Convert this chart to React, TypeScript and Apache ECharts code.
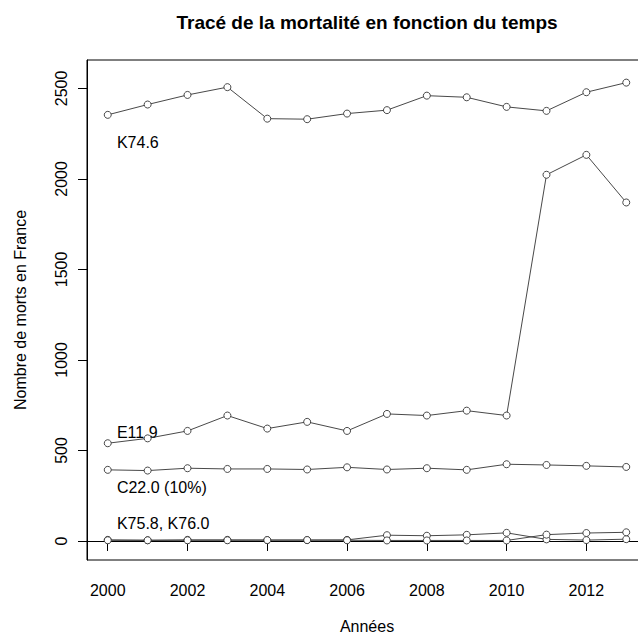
import React, { useEffect, useRef } from "react";
import * as echarts from "echarts";

const years = [2000, 2001, 2002, 2003, 2004, 2005, 2006, 2007, 2008, 2009, 2010, 2011, 2012, 2013];
const k746 = [2354, 2411, 2464, 2507, 2333, 2330, 2361, 2380, 2460, 2451, 2398, 2376, 2479, 2532];
const e119 = [540, 567, 608, 693, 621, 658, 608, 702, 693, 720, 693, 2023, 2133, 1870];
const c220 = [393, 389, 402, 398, 398, 395, 407, 395, 402, 393, 424, 420, 415, 409];
const k758 = [6, 4, 6, 6, 5, 5, 6, 32, 29, 34, 45, 9, 5, 10];
const k760 = [4, 4, 4, 4, 5, 5, 4, 3, 3, 3, 3, 35, 44, 48];

const xTicks = [2000, 2002, 2004, 2006, 2008, 2010, 2012];
const yTicks = [0, 500, 1000, 1500, 2000, 2500];

const annotLabels = ["K74.6", "E11.9", "C22.0 (10%)", "K75.8, K76.0"];
const annotX = [2000.23, 2000.23, 2000.23, 2000.23];
const annotY = [2201, 600, 297, 97];

const titleText = "Tracé de la mortalité en fonction du temps";
const FONT = '"Liberation Sans", Arial, sans-serif';

export default function App() {
  const ref = useRef<HTMLDivElement>(null);
  useEffect(() => {
    if (!ref.current) return;
    const chart = echarts.init(ref.current, null, { renderer: "svg" });
    const mk = (name: string, vals: number[]) => ({
      name,
      type: "line",
      data: years.map((y, i) => [y, vals[i]]),
      symbol: "circle",
      symbolSize: 7,
      lineStyle: { color: "#333", width: 0.9 },
      itemStyle: { color: "#fff", borderColor: "#333", borderWidth: 0.9 },
      emphasis: { disabled: true },
    });
    chart.setOption({
      animation: false,
      backgroundColor: "#fff",
      textStyle: { fontFamily: FONT },
      grid: { left: 87, right: 0, top: 60, bottom: 74, show: true, borderColor: "#000", borderWidth: 1, outerBoundsMode: "none", containLabel: false },
      xAxis: {
        type: "value",
        min: 1999.48,
        max: 2013.52,
        name: "Années",
        nameLocation: "middle",
        nameGap: 58,
        nameTextStyle: { fontSize: 16, color: "#000", fontFamily: FONT },
        axisLine: { show: true, lineStyle: { color: "#000", width: 1 } },
        axisTick: { show: true, length: 10, customValues: xTicks, lineStyle: { color: "#000" } },
        axisLabel: { customValues: xTicks, fontSize: 16, color: "#000", margin: 22, fontFamily: FONT, formatter: (v: number) => String(v) },
        splitLine: { show: false },
      },
      yAxis: {
        type: "value",
        min: -105,
        max: 2657,
        name: "Nombre de morts en France",
        nameLocation: "middle",
        nameGap: 59,
        nameTextStyle: { fontSize: 16, color: "#000", fontFamily: FONT },
        axisLine: { show: true, lineStyle: { color: "#000", width: 1 } },
        axisTick: { show: true, length: 9, customValues: yTicks, lineStyle: { color: "#000" } },
        axisLabel: { customValues: yTicks, fontSize: 16, color: "#000", margin: 18, rotate: 90, fontFamily: FONT, formatter: (v: number) => String(v) },
        splitLine: { show: false },
      },
      series: [mk("K74.6", k746), mk("E11.9", e119), mk("C22.0", c220), mk("K75.8", k758), mk("K76.0", k760)],
    });
    const texts: any[] = annotLabels.map((t, i) => {
      const p = chart.convertToPixel({ gridIndex: 0 }, [annotX[i], annotY[i]]) as number[];
      return {
        type: "text",
        x: p[0],
        y: p[1],
        style: { text: t, fontSize: 16, fontFamily: FONT, fill: "#000", textAlign: "left", textVerticalAlign: "middle" },
      };
    });
    const c = chart.convertToPixel({ gridIndex: 0 }, [2006.5, 0]) as number[];
    texts.push({
      type: "text",
      x: c[0],
      y: 22,
      style: { text: titleText, fontSize: 19, fontWeight: "bold", fontFamily: FONT, fill: "#000", textAlign: "center", textVerticalAlign: "middle" },
    });
    chart.setOption({ graphic: texts });
    return () => chart.dispose();
  }, []);
  return (
    <div style={{ position: "absolute", left: 0, top: 0, width: 638, height: 634, overflow: "hidden", background: "#fff" }}>
      <div ref={ref} style={{ width: 647, height: 634 }} />
    </div>
  );
}
